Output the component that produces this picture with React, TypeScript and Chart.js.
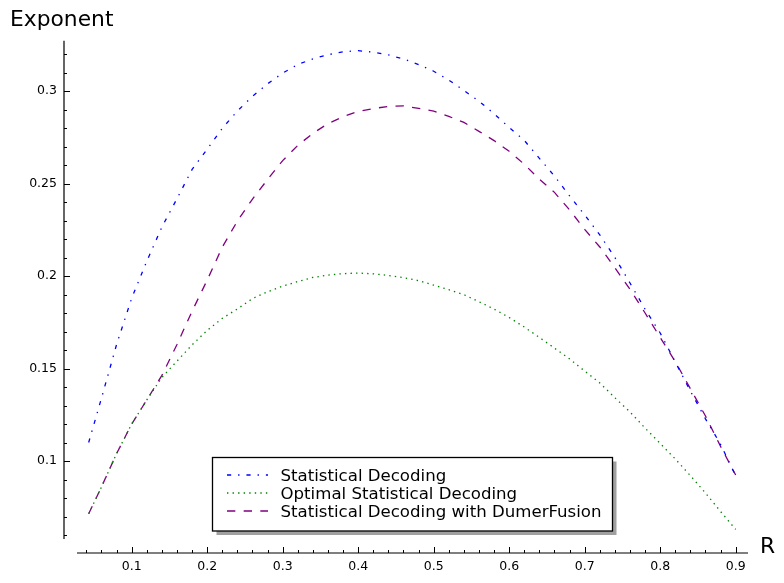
import React, { useEffect, useRef } from "react";
import { Chart, registerables } from "chart.js";

Chart.register(...registerables);

// ---- data ----
const rates = [
  0.043, 0.06, 0.08, 0.1, 0.12, 0.14, 0.16, 0.18, 0.2, 0.22, 0.24, 0.26, 0.28, 0.3, 0.32,
  0.34, 0.36, 0.38, 0.4, 0.42, 0.44, 0.46, 0.48, 0.5, 0.52, 0.54, 0.56, 0.58, 0.6, 0.62,
  0.64, 0.66, 0.68, 0.7, 0.72, 0.74, 0.76, 0.78, 0.8, 0.82, 0.84, 0.86, 0.88, 0.9,
];

const statisticalDecoding = [
  0.11, 0.134, 0.163, 0.188, 0.208, 0.2265, 0.2418, 0.2576, 0.2686, 0.2798, 0.2892, 0.2971,
  0.3039, 0.3097, 0.3143, 0.3174, 0.3196, 0.3212, 0.3218, 0.321, 0.3195, 0.3173, 0.3143,
  0.3107, 0.3059, 0.3003, 0.2945, 0.2877, 0.2803, 0.2733, 0.2636, 0.254, 0.2433, 0.233,
  0.2222, 0.21, 0.1962, 0.182, 0.1692, 0.1535, 0.1378, 0.1228, 0.109, 0.0919,
];

const optimalStatisticalDecoding = [
  0.0715, 0.086, 0.104, 0.12, 0.133, 0.1452, 0.154, 0.1628, 0.1706, 0.1771, 0.1822, 0.1878,
  0.1915, 0.1945, 0.197, 0.1992, 0.2005, 0.2013, 0.2016, 0.2012, 0.2003, 0.1991, 0.1975,
  0.1951, 0.1926, 0.1899, 0.1861, 0.1821, 0.1776, 0.1724, 0.1668, 0.161, 0.1552, 0.1486,
  0.1422, 0.1342, 0.1265, 0.1178, 0.1095, 0.1011, 0.0921, 0.0827, 0.0727, 0.063,
];

const dumerFusion = [
  0.0715, 0.086, 0.104, 0.12, 0.133, 0.1463, 0.163, 0.181, 0.1978, 0.2156, 0.2297, 0.2416,
  0.2522, 0.2624, 0.2706, 0.2771, 0.2824, 0.2861, 0.289, 0.2905, 0.2917, 0.292, 0.2906,
  0.2891, 0.2863, 0.283, 0.2782, 0.2732, 0.2674, 0.2604, 0.2523, 0.2452, 0.2357, 0.2252,
  0.2157, 0.2044, 0.1928, 0.18, 0.1668, 0.1537, 0.1391, 0.1243, 0.1079, 0.0924,
];

const seriesLabels = [
  "Statistical Decoding",
  "Optimal Statistical Decoding",
  "Statistical Decoding with DumerFusion",
];

const yAxisTitle = "Exponent";
const xAxisTitle = "R";

const xRange = [0.02755, 0.9163];
const yRange = [0.05784, 0.32719];
const xMajorStep = 0.1;
const xMinorStep = 0.02;
const yMajorStep = 0.05;
const yMinorStep = 0.01;

// ---- styling ----
const FONT = "DejaVu Sans";
const PT = 100 / 72;

const toPoints = (ys: number[]) => rates.map((x, i) => ({ x, y: ys[i] }));

const fmt = (v: number) => String(parseFloat(Number(v).toFixed(4)));

const sageAxes = {
  id: "sageAxes",
  beforeDatasetsDraw(chart: any) {
    const { ctx, chartArea } = chart;
    const xs = chart.scales.x;
    const ys = chart.scales.y;
    const yAxisX = chartArea.left - 13;
    const xAxisY = chartArea.bottom + 14;
    ctx.save();
    ctx.strokeStyle = "#000";
    ctx.lineWidth = 1.2;
    ctx.beginPath();
    ctx.moveTo(yAxisX, chartArea.top);
    ctx.lineTo(yAxisX, chartArea.bottom);
    ctx.moveTo(chartArea.left, xAxisY);
    ctx.lineTo(chartArea.right, xAxisY);
    ctx.stroke();
    ctx.lineWidth = 1;
    ctx.beginPath();
    const yStart = Math.ceil(ys.min / yMinorStep - 1e-6);
    for (let k = yStart; k * yMinorStep <= ys.max + 1e-9; k++) {
      const v = k * yMinorStep;
      const major = Math.abs(v / yMajorStep - Math.round(v / yMajorStep)) < 1e-6;
      const p = Math.round(ys.getPixelForValue(v)) + 0.5;
      ctx.moveTo(yAxisX, p);
      ctx.lineTo(yAxisX + (major ? 6 : 3), p);
    }
    const xStart = Math.ceil(xs.min / xMinorStep - 1e-6);
    for (let k = xStart; k * xMinorStep <= xs.max + 1e-9; k++) {
      const v = k * xMinorStep;
      const major = Math.abs(v / xMajorStep - Math.round(v / xMajorStep)) < 1e-6;
      const p = Math.round(xs.getPixelForValue(v)) + 0.5;
      ctx.moveTo(p, xAxisY);
      ctx.lineTo(p, xAxisY - (major ? 6 : 3));
    }
    ctx.stroke();
    ctx.fillStyle = "#000";
    ctx.font = `21.8px "${FONT}"`;
    ctx.textAlign = "left";
    ctx.textBaseline = "alphabetic";
    ctx.fillText(yAxisTitle, 10, 26);
    ctx.fillText(xAxisTitle, chartArea.right + 12, xAxisY);
    ctx.restore();
  },
  afterDraw(chart: any) {
    const { ctx } = chart;
    const box = { left: 212.5, top: 457.5, width: 400, height: 73.5 };
    ctx.save();
    ctx.fillStyle = "#a0a0a0";
    ctx.fillRect(box.left + 4, box.top + 4, box.width, box.height);
    ctx.fillStyle = "#fff";
    ctx.fillRect(box.left, box.top, box.width, box.height);
    ctx.strokeStyle = "#000";
    ctx.lineWidth = 1.3;
    ctx.strokeRect(box.left, box.top, box.width, box.height);
    ctx.font = `16.6px "${FONT}"`;
    ctx.textBaseline = "alphabetic";
    ctx.textAlign = "left";
    chart.data.datasets.forEach((ds: any, i: number) => {
      const cy = 475 + i * 18;
      ctx.save();
      ctx.strokeStyle = ds.borderColor;
      ctx.lineWidth = ds.borderWidth;
      ctx.setLineDash(ds.borderDash || []);
      ctx.beginPath();
      ctx.moveTo(227, cy);
      ctx.lineTo(268, cy);
      ctx.stroke();
      ctx.restore();
      ctx.fillStyle = "#000";
      ctx.fillText(ds.label, 280.5, cy + 5.5);
    });
    ctx.restore();
  },
};

export default function App() {
  const ref = useRef<HTMLCanvasElement>(null);
  useEffect(() => {
    if (!ref.current) return;
    Chart.defaults.font.family = FONT;
    Chart.defaults.font.size = 12.5;
    Chart.defaults.color = "#000";
    const chart = new Chart(ref.current, {
      type: "line",
      data: {
        datasets: [
          {
            label: seriesLabels[0],
            data: toPoints(statisticalDecoding),
            borderColor: "#0000ff",
            borderWidth: 1.3,
            borderDash: [3 * PT, 5 * PT, 1 * PT, 5 * PT],
            pointRadius: 0,
            tension: 0,
            fill: false,
          },
          {
            label: seriesLabels[1],
            data: toPoints(optimalStatisticalDecoding),
            borderColor: "#008000",
            borderWidth: 1.3,
            borderDash: [1 * PT, 3 * PT],
            pointRadius: 0,
            tension: 0,
            fill: false,
          },
          {
            label: seriesLabels[2],
            data: toPoints(dumerFusion),
            borderColor: "#800080",
            borderWidth: 1.3,
            borderDash: [6 * PT, 6 * PT],
            pointRadius: 0,
            tension: 0,
            fill: false,
          },
        ],
      },
      options: {
        animation: false,
        responsive: false,
        devicePixelRatio: 1,
        layout: { padding: { left: 0, right: 36, top: 40.7, bottom: 0 } },
        plugins: { legend: { display: false }, tooltip: { enabled: false } },
        scales: {
          x: {
            type: "linear",
            min: xRange[0],
            max: xRange[1],
            grid: { display: false, drawTicks: false },
            border: { display: false },
            ticks: {
              stepSize: xMajorStep,
              includeBounds: false,
              padding: 20,
              maxRotation: 0,
              autoSkip: false,
              font: { size: 12.5 },
              callback: (v: any) => fmt(v),
            },
            afterFit: (s: any) => {
              s.height = 44;
            },
          },
          y: {
            type: "linear",
            min: yRange[0],
            max: yRange[1],
            grid: { display: false, drawTicks: false },
            border: { display: false },
            ticks: {
              stepSize: yMajorStep,
              includeBounds: false,
              padding: 20,
              autoSkip: false,
              font: { size: 12.5 },
              callback: (v: any) => fmt(v),
            },
            afterFit: (s: any) => {
              s.width = 77;
            },
          },
        },
      },
      plugins: [sageAxes],
    } as any);
    return () => chart.destroy();
  }, []);
  return (
    <div style={{ position: "absolute", left: 0, top: 0, width: 784, height: 583, background: "#fff" }}>
      <canvas ref={ref} width={784} height={583} style={{ display: "block", width: 784, height: 583 }} />
    </div>
  );
}
